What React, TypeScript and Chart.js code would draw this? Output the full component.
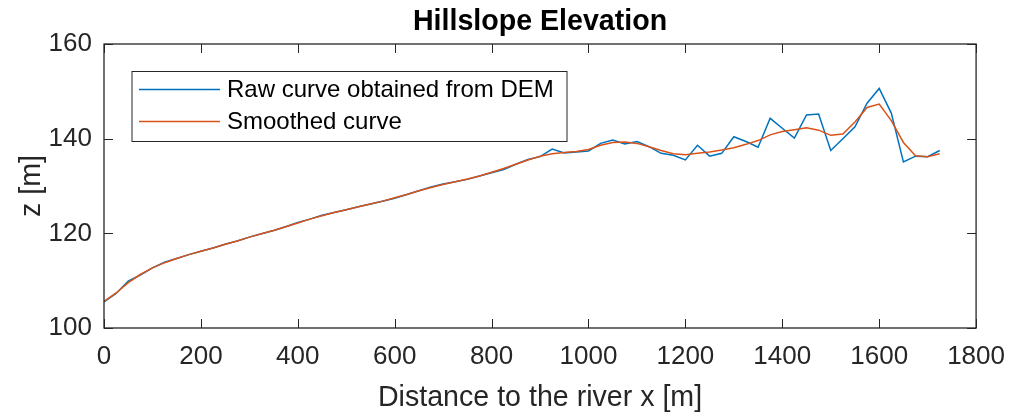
import React, { useEffect, useRef } from "react";
import { Chart, registerables } from "chart.js";

Chart.register(...registerables);

const distances = [
  0, 25, 50, 75, 100, 125, 150, 175, 200, 225,
  250, 275, 300, 325, 350, 375, 400, 425, 450, 475,
  500, 525, 550, 575, 600, 625, 650, 675, 700, 725,
  750, 775, 800, 825, 850, 875, 900, 925, 950, 975,
  1000, 1025, 1050, 1075, 1100, 1125, 1150, 1175, 1200, 1225,
  1250, 1275, 1300, 1325, 1350, 1375, 1400, 1425, 1450, 1475,
  1500, 1525, 1550, 1575, 1600, 1625, 1650, 1675, 1700, 1725,
];

const rawElevation = [
  105.5, 107.3, 109.9, 111.2, 112.7, 113.9, 114.7, 115.5, 116.2, 116.9,
  117.7, 118.4, 119.2, 119.9, 120.6, 121.4, 122.3, 123.0, 123.8, 124.4,
  125.0, 125.6, 126.2, 126.8, 127.4, 128.2, 129.0, 129.8, 130.4, 130.9,
  131.4, 132.1, 132.8, 133.5, 134.6, 135.6, 136.2, 137.8, 137.0, 137.2,
  137.4, 139.0, 139.7, 138.9, 139.4, 138.3, 136.9, 136.5, 135.5, 138.6,
  136.3, 136.9, 140.4, 139.4, 138.2, 144.3, 142.2, 140.1, 145.0, 145.2,
  137.5, 140.0, 142.5, 147.5, 150.6, 145.4, 135.1, 136.3, 136.2, 137.5,
];

const smoothElevation = [
  105.6, 107.4, 109.6, 111.3, 112.7, 113.8, 114.7, 115.5, 116.2, 116.9,
  117.7, 118.4, 119.2, 119.9, 120.6, 121.4, 122.2, 123.0, 123.7, 124.4,
  125.0, 125.6, 126.2, 126.8, 127.5, 128.2, 129.0, 129.7, 130.3, 130.9,
  131.5, 132.1, 132.9, 133.7, 134.6, 135.5, 136.3, 136.8, 137.1, 137.3,
  137.7, 138.6, 139.2, 139.3, 139.0, 138.3, 137.5, 136.8, 136.6, 136.9,
  137.2, 137.6, 138.1, 138.8, 139.6, 140.8, 141.5, 141.9, 142.3, 141.8,
  140.7, 141.0, 143.5, 146.6, 147.3, 143.8, 139.2, 136.4, 136.2, 136.8,
];

const seriesLabels = ["Raw curve obtained from DEM", "Smoothed curve"];
const seriesColors = ["#0072BD", "#D95319"];
const chartTitle = "Hillslope Elevation";
const xAxisTitle = "Distance to the river x [m]";
const yAxisTitle = "z [m]";
const xTicks = { min: 0, max: 1800, step: 200 };
const yTicks = { min: 100, max: 160, step: 20 };

const FONT = "'Liberation Sans', Arial, Helvetica, sans-serif";
const AXIS_COLOR = "#262626";

const W = 1018;
const H = 417;
const AREA = { left: 104, top: 44, right: 982, bottom: 328 };

const decorPlugin = {
  id: "matlabDecor",
  afterDatasetsDraw(chart: any) {
    const { ctx } = chart;
    const ca = chart.chartArea;
    const xs = chart.scales.x;
    const ys = chart.scales.y;
    ctx.save();
    // box
    ctx.strokeStyle = AXIS_COLOR;
    ctx.lineWidth = 1.3;
    ctx.strokeRect(ca.left, ca.top, ca.right - ca.left, ca.bottom - ca.top);
    // ticks inside
    const tl = 9;
    ctx.lineWidth = 1;
    ctx.beginPath();
    xs.ticks.forEach((t: any) => {
      const px = Math.round(xs.getPixelForValue(t.value)) + 0.5;
      ctx.moveTo(px, ca.bottom);
      ctx.lineTo(px, ca.bottom - tl);
      ctx.moveTo(px, ca.top);
      ctx.lineTo(px, ca.top + tl);
    });
    ys.ticks.forEach((t: any) => {
      const py = Math.round(ys.getPixelForValue(t.value)) + 0.5;
      ctx.moveTo(ca.left, py);
      ctx.lineTo(ca.left + tl, py);
      ctx.moveTo(ca.right, py);
      ctx.lineTo(ca.right - tl, py);
    });
    ctx.stroke();

    // legend
    const lx = 131.5, ly = 71, lw = 435, lh = 70;
    ctx.fillStyle = "#ffffff";
    ctx.fillRect(lx, ly, lw, lh);
    ctx.strokeStyle = AXIS_COLOR;
    ctx.lineWidth = 1;
    ctx.strokeRect(lx + 0.5, ly + 0.5, lw, lh);
    ctx.font = `24px ${FONT}`;
    ctx.textBaseline = "middle";
    ctx.textAlign = "left";
    const rows = [89.5, 121.5];
    chart.data.datasets.forEach((ds: any, i: number) => {
      const y = rows[i];
      ctx.strokeStyle = ds.borderColor;
      ctx.lineWidth = 1.5;
      ctx.beginPath();
      ctx.moveTo(139, y);
      ctx.lineTo(220, y);
      ctx.stroke();
      ctx.fillStyle = "#000000";
      ctx.fillText(ds.label, 227, y + 1);
    });

    // title
    ctx.fillStyle = "#000000";
    ctx.font = `bold 28.6px ${FONT}`;
    ctx.textAlign = "center";
    ctx.textBaseline = "alphabetic";
    ctx.fillText(chartTitle, (ca.left + ca.right) / 2, 30);
    ctx.restore();
  },
};

export default function App() {
  const ref = useRef<HTMLCanvasElement | null>(null);

  useEffect(() => {
    if (!ref.current) return;
    const chart = new Chart(ref.current, {
      type: "line",
      data: {
        datasets: [
          {
            label: seriesLabels[0],
            data: distances.map((d, i) => ({ x: d, y: rawElevation[i] })),
            borderColor: seriesColors[0],
            backgroundColor: seriesColors[0],
            borderWidth: 1.5,
            pointRadius: 0,
            tension: 0,
            order: 2,
          },
          {
            label: seriesLabels[1],
            data: distances.map((d, i) => ({ x: d, y: smoothElevation[i] })),
            borderColor: seriesColors[1],
            backgroundColor: seriesColors[1],
            borderWidth: 1.5,
            pointRadius: 0,
            tension: 0,
            order: 1,
          },
        ],
      },
      options: {
        animation: false,
        responsive: false,
        devicePixelRatio: 1,
        layout: {
          padding: { left: 0, top: AREA.top, right: W - AREA.right, bottom: 0 },
        },
        plugins: {
          legend: { display: false },
          title: { display: false },
          tooltip: { enabled: false },
        },
        scales: {
          x: {
            type: "linear",
            min: xTicks.min,
            max: xTicks.max,
            afterFit: (s: any) => {
              s.height = H - AREA.bottom;
            },
            afterBuildTicks: (s: any) => {
              const t = [];
              for (let v = xTicks.min; v <= xTicks.max; v += xTicks.step) t.push({ value: v });
              s.ticks = t;
            },
            grid: { display: false, drawTicks: false },
            border: { display: false },
            ticks: {
              color: AXIS_COLOR,
              font: { family: FONT, size: 26 },
              padding: 13,
              maxRotation: 0,
              autoSkip: false,
              callback: (v: any) => String(v),
            },
            title: {
              display: true,
              text: xAxisTitle,
              color: AXIS_COLOR,
              font: { family: FONT, size: 28.6 },
              padding: { top: 0, bottom: 2 },
            },
          },
          y: {
            type: "linear",
            min: yTicks.min,
            max: yTicks.max,
            afterFit: (s: any) => {
              s.width = AREA.left;
            },
            afterBuildTicks: (s: any) => {
              const t = [];
              for (let v = yTicks.min; v <= yTicks.max; v += yTicks.step) t.push({ value: v });
              s.ticks = t;
            },
            grid: { display: false, drawTicks: false },
            border: { display: false },
            ticks: {
              color: AXIS_COLOR,
              font: { family: FONT, size: 26 },
              padding: 12,
              autoSkip: false,
              callback: (v: any) => String(v),
            },
            title: {
              display: true,
              text: yAxisTitle,
              color: AXIS_COLOR,
              font: { family: FONT, size: 28.6 },
              padding: { top: 15, bottom: 0 },
            },
          },
        },
      },
      plugins: [decorPlugin],
    } as any);
    return () => chart.destroy();
  }, []);

  return (
    <div style={{ position: "fixed", left: 0, top: 0, width: W, height: H, background: "#ffffff" }}>
      <canvas ref={ref} width={W} height={H} style={{ display: "block", width: W, height: H }} />
    </div>
  );
}
